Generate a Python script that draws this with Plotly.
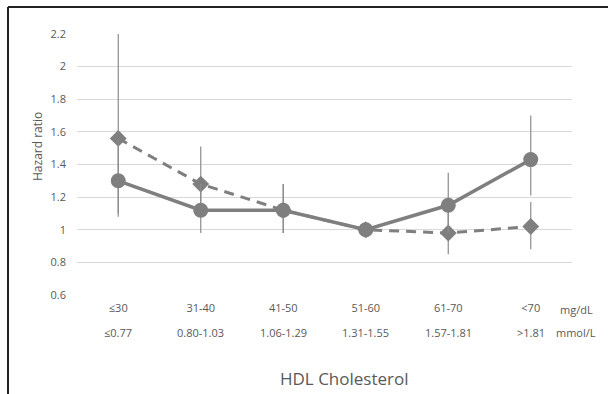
import plotly.graph_objects as go

# HDL cholesterol categories
mg_dl = ["≤30", "31-40", "41-50", "51-60", "61-70", "<70"]
mmol_l = ["≤0.77", "0.80-1.03", "1.06-1.29", "1.31-1.55", "1.57-1.81", ">1.81"]

# Hazard ratios with 95% confidence limits
hr_solid = [1.30, 1.12, 1.12, 1.00, 1.15, 1.43]
lo_solid = [1.10, 0.98, 0.98, 1.00, 0.98, 1.21]
hi_solid = [1.55, 1.28, 1.28, 1.00, 1.35, 1.70]

hr_dashed = [1.56, 1.28, 1.12, 1.00, 0.98, 1.02]
lo_dashed = [1.08, 1.085, 0.98, 1.00, 0.85, 0.88]
hi_dashed = [2.20, 1.51, 1.28, 1.00, 1.13, 1.17]

y_ticks = [0.6, 0.8, 1.0, 1.2, 1.4, 1.6, 1.8, 2.0, 2.2]
y_tick_text = ["0.6", "0.8", "1", "1.2", "1.4", "1.6", "1.8", "2", "2.2"]

GREY = "#7f7f7f"
TEXT = "#595959"
FONT = "Open Sans"
TICK_SIZE = 11

# plot area in pixels, used for paper-coordinate placement of extras
L, R, T, B = 77, 572, 34, 295
W, H = 609, 394


def px_x(p):
    return (p - L) / (R - L)


def px_y(p):
    return (B - p) / (B - T)


def err(vals, lo, hi):
    return dict(
        type="data",
        symmetric=False,
        array=[h - v for v, h in zip(vals, hi)],
        arrayminus=[v - l for v, l in zip(vals, lo)],
        color="#8c8c8c",
        thickness=1.2,
        width=0,
    )


x_idx = list(range(len(mg_dl)))

fig = go.Figure()
fig.add_trace(go.Scatter(
    x=x_idx, y=hr_dashed, mode="lines+markers",
    line=dict(color=GREY, width=3, dash="10px,7px"),
    marker=dict(symbol="diamond", size=13, color=GREY),
    error_y=err(hr_dashed, lo_dashed, hi_dashed),
    showlegend=False, cliponaxis=False,
))
fig.add_trace(go.Scatter(
    x=x_idx, y=hr_solid, mode="lines+markers",
    line=dict(color=GREY, width=3.5),
    marker=dict(symbol="circle", size=15, color=GREY),
    error_y=err(hr_solid, lo_solid, hi_solid),
    showlegend=False, cliponaxis=False,
))

annotations = []
# second row of category labels (mmol/L)
for i, t in enumerate(mmol_l):
    annotations.append(dict(
        x=i, xref="x", y=px_y(332), yref="paper", text=t, showarrow=False,
        font=dict(family=FONT, size=TICK_SIZE, color=TEXT), xanchor="center", yanchor="middle",
    ))
# unit labels
annotations.append(dict(
    x=px_x(576), xref="paper", y=px_y(309), yref="paper", text="mg/dL", showarrow=False,
    font=dict(family=FONT, size=TICK_SIZE, color=TEXT), xanchor="center", yanchor="middle",
))
annotations.append(dict(
    x=px_x(576), xref="paper", y=px_y(332), yref="paper", text="mmol/L", showarrow=False,
    font=dict(family=FONT, size=TICK_SIZE, color=TEXT), xanchor="center", yanchor="middle",
))
# axis titles
annotations.append(dict(
    x=px_x(344), xref="paper", y=px_y(378), yref="paper", text="HDL Cholesterol", showarrow=False,
    font=dict(family=FONT, size=17, color=TEXT), xanchor="center", yanchor="middle",
))
annotations.append(dict(
    x=px_x(37), xref="paper", y=px_y(147), yref="paper", text="Hazard ratio", showarrow=False,
    textangle=-90, font=dict(family=FONT, size=12, color=TEXT), xanchor="center", yanchor="middle",
))

shapes = [
    # frame around the chart
    dict(type="line", xref="paper", yref="paper", x0=px_x(8), x1=px_x(8), y0=px_y(7), y1=px_y(400),
         line=dict(color="#222222", width=2)),
    dict(type="line", xref="paper", yref="paper", x0=px_x(8), x1=px_x(608), y0=px_y(7), y1=px_y(7),
         line=dict(color="#222222", width=2)),
]

fig.update_layout(
    width=W, height=H,
    margin=dict(l=L, r=W - R, t=T, b=H - B),
    paper_bgcolor="white", plot_bgcolor="white",
    font=dict(family=FONT, size=TICK_SIZE, color=TEXT),
    annotations=annotations, shapes=shapes,
    xaxis=dict(
        range=[-0.5, len(mg_dl) - 0.5], tickvals=x_idx, ticktext=mg_dl,
        showgrid=False, zeroline=False, showline=False, ticks="",
        ticklabelstandoff=5, tickfont=dict(family=FONT, size=TICK_SIZE, color=TEXT),
    ),
    yaxis=dict(
        range=[0.6, 2.2], tickvals=y_ticks, ticktext=y_tick_text,
        showgrid=True, gridcolor="#d9d9d9", gridwidth=1, zeroline=False, showline=False,
        ticks="", ticklabelstandoff=10, tickfont=dict(family=FONT, size=TICK_SIZE, color=TEXT),
    ),
)

fig.write_html("out.html")
